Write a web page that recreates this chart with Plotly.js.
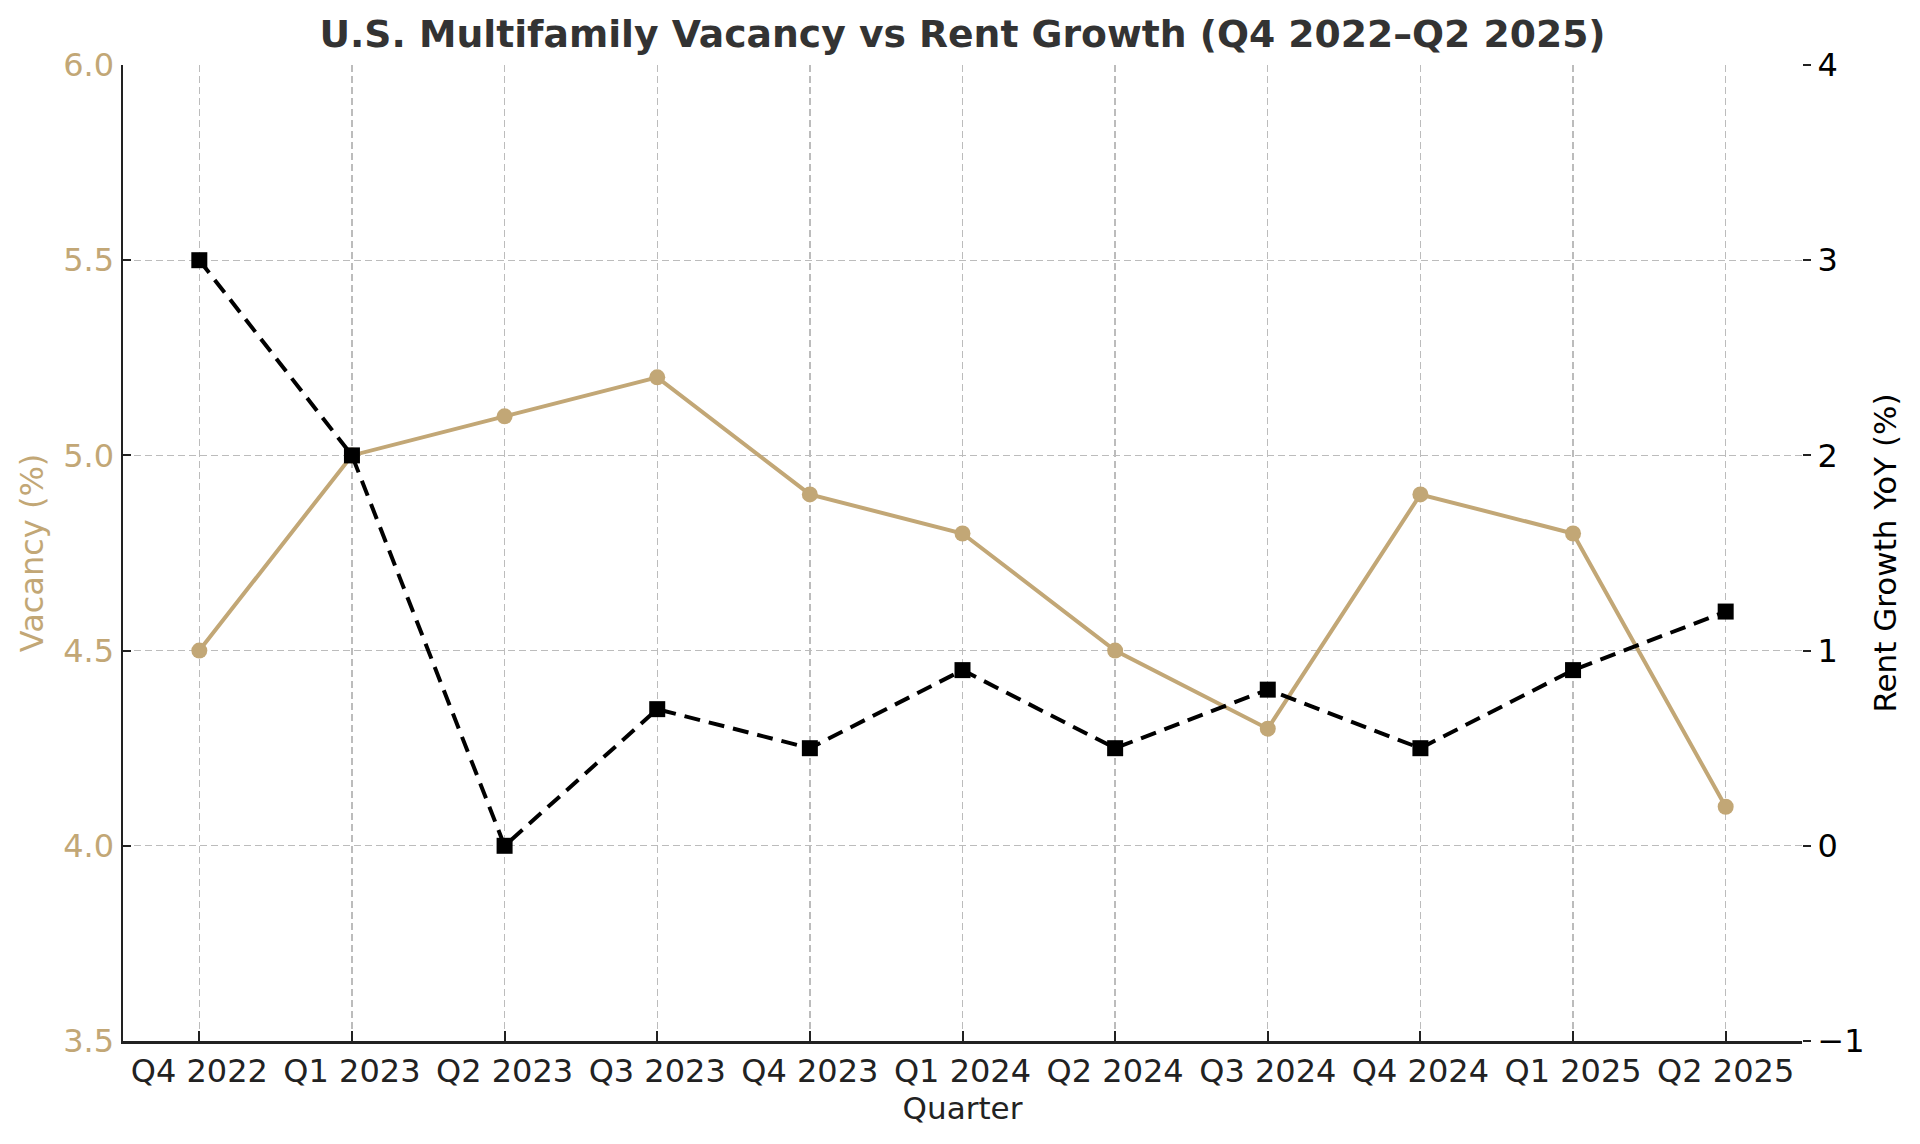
<!DOCTYPE html>
<html>
<head>
<meta charset="utf-8">
<script src="https://cdn.plot.ly/plotly-3.0.1.min.js"></script>
<style>
  html, body { margin: 0; padding: 0; background: #fff; }
  #chart { width: 1920px; height: 1144px; }
</style>
</head>
<body>
<div id="chart"></div>
<script>
var quarters = ['Q4 2022', 'Q1 2023', 'Q2 2023', 'Q3 2023', 'Q4 2023', 'Q1 2024',
                'Q2 2024', 'Q3 2024', 'Q4 2024', 'Q1 2025', 'Q2 2025'];
var vacancy = [4.5, 5.0, 5.1, 5.2, 4.9, 4.8, 4.5, 4.3, 4.9, 4.8, 4.1];
var rentGrowth = [3.0, 2.0, 0.0, 0.7, 0.5, 0.9, 0.5, 0.8, 0.5, 0.9, 1.2];

var tan = '#c2a776';
var ink = '#222222';
var gridCol = '#bcbcbc';
var fontFam = '"DejaVu Sans", Verdana, sans-serif';

var vacTrace = {
  x: quarters,
  y: vacancy,
  name: 'Vacancy (%)',
  type: 'scatter',
  mode: 'lines+markers',
  line: { color: tan, width: 4 },
  marker: { color: tan, size: 16, symbol: 'circle' },
  yaxis: 'y'
};

var rentTrace = {
  x: quarters,
  y: rentGrowth,
  name: 'Rent Growth YoY (%)',
  type: 'scatter',
  mode: 'lines+markers',
  line: { color: '#000000', width: 4, dash: '16px,9px' },
  marker: { color: '#000000', size: 16, symbol: 'square' },
  yaxis: 'y2'
};

var layout = {
  width: 1920,
  height: 1144,
  margin: { l: 123, r: 118, t: 65, b: 103 },
  paper_bgcolor: '#ffffff',
  plot_bgcolor: '#ffffff',
  showlegend: false,
  font: { family: fontFam, size: 32, color: ink },
  title: {
    text: '<b>U.S. Multifamily Vacancy vs Rent Growth (Q4 2022–Q2 2025)</b>',
    font: { family: fontFam, size: 37.7, color: '#333333' },
    x: 0.5,
    xref: 'paper',
    xanchor: 'center',
    y: 1 - 34 / 1144,
    yref: 'container',
    yanchor: 'middle'
  },
  xaxis: {
    type: 'category',
    range: [-0.5, 10.5],
    showline: true,
    linecolor: ink,
    linewidth: 2.5,
    ticks: 'inside',
    ticklen: 10,
    tickwidth: 2,
    tickcolor: ink,
    showgrid: true,
    gridcolor: gridCol,
    gridwidth: 1.4,
    griddash: '7px,4px',
    zeroline: false,
    tickfont: { family: fontFam, size: 32, color: ink },
    title: { text: 'Quarter', font: { family: fontFam, size: 31, color: ink }, standoff: 8 },
    automargin: false
  },
  yaxis: {
    range: [3.5, 6.0],
    dtick: 0.5,
    tick0: 3.5,
    tickformat: '.1f',
    showline: true,
    linecolor: ink,
    linewidth: 2.5,
    ticks: 'inside',
    ticklen: 8,
    tickwidth: 2,
    tickcolor: ink,
    showgrid: true,
    gridcolor: gridCol,
    gridwidth: 1.4,
    griddash: '7px,4px',
    zeroline: false,
    tickfont: { family: fontFam, size: 32, color: tan },
    title: { text: 'Vacancy (%)', font: { family: fontFam, size: 32, color: tan }, standoff: 10 },
    automargin: false
  },
  yaxis2: {
    overlaying: 'y',
    side: 'right',
    range: [-1, 4],
    dtick: 1,
    tick0: -1,
    showline: false,
    ticks: 'outside',
    ticklen: 8,
    tickwidth: 2,
    tickcolor: ink,
    showgrid: false,
    zeroline: false,
    tickfont: { family: fontFam, size: 32, color: '#000000' },
    title: { text: 'Rent Growth YoY (%)', font: { family: fontFam, size: 31, color: '#000000' }, standoff: 10 },
    automargin: false
  }
};

Plotly.newPlot('chart', [vacTrace, rentTrace], layout, { displayModeBar: false, staticPlot: true });
</script>
</body>
</html>
